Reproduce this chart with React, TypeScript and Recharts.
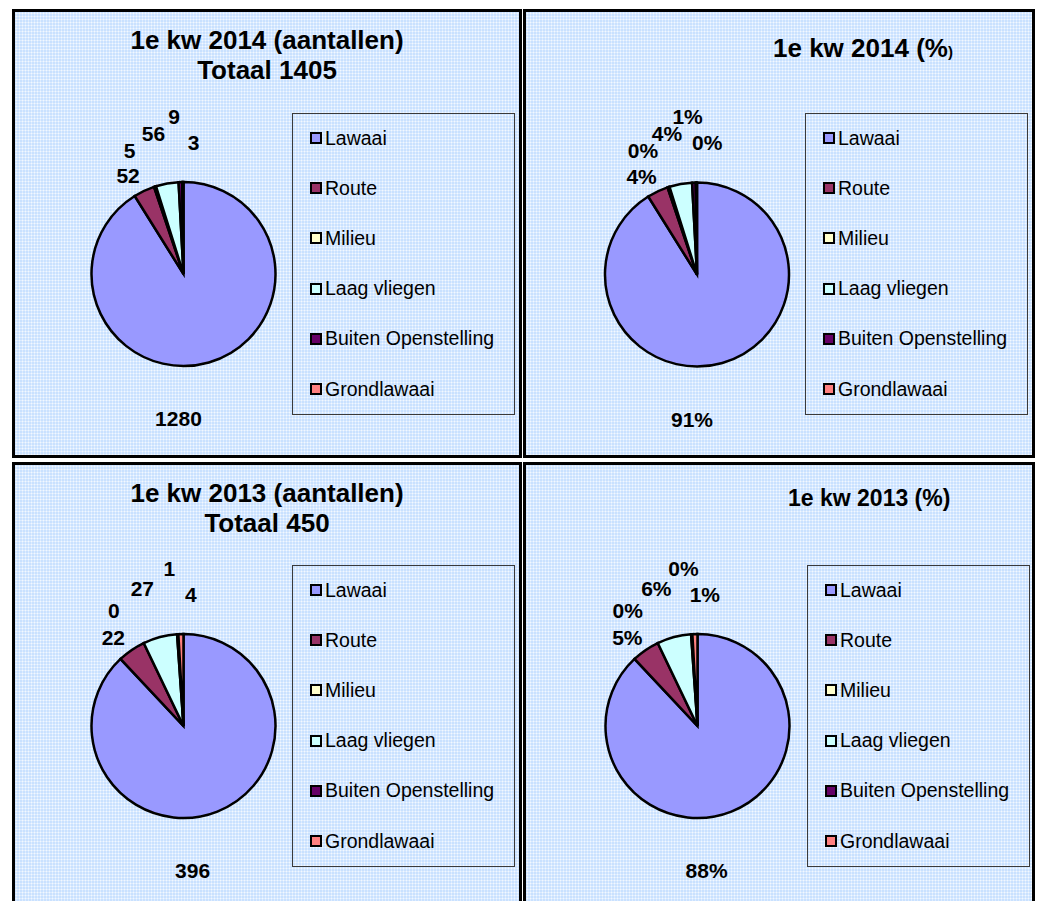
import React from 'react'
import { PieChart, Pie, Cell, Legend } from 'recharts'

const categories = ['Lawaai', 'Route', 'Milieu', 'Laag vliegen', 'Buiten Openstelling', 'Grondlawaai']
const sliceColors = ['#9999FF', '#993366', '#FFFFCC', '#CCFFFF', '#660066', '#FF8080']

const counts2014 = [1280, 52, 5, 56, 9, 3]
const counts2013 = [396, 22, 0, 27, 1, 4]

// label placement around the pie: angle nudge (deg, clockwise) and distance from centre
const labelShift = [18, -4, -5.5, -1.8, -1.5, 4.8]
const labelRadius = [145, 113, 135, 144, 158, 132]

const FONT = "'Liberation Sans', Arial, Helvetica, sans-serif"
const RAD = Math.PI / 180

const panelBg =
	'radial-gradient(circle at 1.5px 1.5px, #f2f8ff 0.8px, transparent 1.2px) 0 0 / 3px 3px, #c9e1ff'

type LabelProps = {
	cx: number
	cy: number
	midAngle: number
	index: number
	value: number
	percent: number
}

const makeLabel = (asPercent: boolean) => (props: LabelProps) => {
	const { cx, cy, midAngle, index, value, percent } = props
	const a = (90 - midAngle + labelShift[index]) * RAD
	const r = labelRadius[index]
	const x = cx + r * Math.sin(a)
	const y = cy - r * Math.cos(a)
	const text = asPercent ? `${Math.round(percent * 100)}%` : `${value}`
	return (
		<text
			key={`lbl-${index}`}
			x={x}
			y={y}
			textAnchor='middle'
			dominantBaseline='central'
			fill='#000'
			fontFamily={FONT}
			fontWeight='bold'
			fontSize={21}
		>
			{text}
		</text>
	)
}

const LegendBox = () => (
	<div
		style={{
			width: 223,
			height: 302,
			boxSizing: 'border-box',
			border: '1px solid #3a3a3a',
			position: 'relative',
			fontFamily: FONT,
		}}
	>
		{categories.map((name, i) => (
			<div
				key={name}
				style={{
					position: 'absolute',
					left: 17,
					top: 24 + i * 50.2 - 12,
					height: 24,
					display: 'flex',
					alignItems: 'center',
					whiteSpace: 'nowrap',
				}}
			>
				<span
					style={{
						display: 'inline-block',
						width: 8,
						height: 8,
						background: sliceColors[i],
						border: '2px solid #000',
						marginRight: 3,
					}}
				/>
				<span style={{ fontSize: 19.5, color: '#000' }}>{name}</span>
			</div>
		))}
	</div>
)

type PanelProps = {
	left: number
	top: number
	width: number
	counts: number[]
	asPercent: boolean
	cx: number
	cy: number
	legendLeft: number
	legendTop: number
	title: React.ReactNode
}

const Panel: React.FC<PanelProps> = ({ left, top, width, counts, asPercent, cx, cy, legendLeft, legendTop, title }) => {
	const data = categories.map((name, i) => ({ name, value: counts[i] }))
	const height = 449
	return (
		<div
			style={{
				position: 'absolute',
				left,
				top,
				width,
				height,
				boxSizing: 'border-box',
				border: '3px solid #000',
				background: panelBg,
			}}
		>
			{title}
			<div style={{ position: 'absolute', left: 0, top: 0 }}>
				<PieChart width={width - 6} height={height - 6} margin={{ top: 0, right: 0, bottom: 0, left: 0 }}>
					<Pie
						data={data}
						dataKey='value'
						nameKey='name'
						cx={cx}
						cy={cy}
						outerRadius={92}
						startAngle={90}
						endAngle={-270}
						stroke='#000'
						strokeWidth={2.5}
						label={makeLabel(asPercent) as any}
						labelLine={false}
						isAnimationActive={false}
					>
						{data.map((d, i) => (
							<Cell key={d.name} fill={sliceColors[i]} />
						))}
					</Pie>
					<Legend
						layout='vertical'
						align='right'
						verticalAlign='top'
						content={() => <LegendBox />}
						wrapperStyle={{ left: legendLeft, top: legendTop, width: 223, height: 302 }}
					/>
				</PieChart>
			</div>
		</div>
	)
}

const titleStyle: React.CSSProperties = {
	position: 'absolute',
	fontFamily: FONT,
	fontWeight: 'bold',
	color: '#000',
	whiteSpace: 'nowrap',
}

const CountTitle = ({ year, total }: { year: string; total: number }) => (
	<div style={{ ...titleStyle, left: 0, right: 0, top: 13, textAlign: 'center', fontSize: 26, lineHeight: '30px' }}>
		1e kw {year} (aantallen)
		<br />
		Totaal {total}
	</div>
)

const PercentTitle = ({ year, left, top, size, smallParen }: { year: string; left: number; top: number; size: number; smallParen: boolean }) => (
	<div style={{ ...titleStyle, left, top, fontSize: size, lineHeight: '30px' }}>
		1e kw {year} (%<span style={{ fontSize: smallParen ? 15 : size }}>)</span>
	</div>
)

export default function App() {
	const total2014 = counts2014.reduce((a, b) => a + b, 0)
	const total2013 = counts2013.reduce((a, b) => a + b, 0)
	return (
		<div style={{ position: 'absolute', left: 0, top: 0, width: 1037, height: 901, overflow: 'hidden', background: '#fff' }}>
			<Panel
				left={12}
				top={9}
				width={510}
				counts={counts2014}
				asPercent={false}
				cx={168.5}
				cy={262}
				legendLeft={277}
				legendTop={101}
				title={<CountTitle year='2014' total={total2014} />}
			/>
			<Panel
				left={523}
				top={9}
				width={512}
				counts={counts2014}
				asPercent={true}
				cx={171}
				cy={262.5}
				legendLeft={279}
				legendTop={101}
				title={<PercentTitle year='2014' left={247} top={21} size={26} smallParen={true} />}
			/>
			<Panel
				left={12}
				top={462}
				width={510}
				counts={counts2013}
				asPercent={false}
				cx={168.5}
				cy={261}
				legendLeft={277}
				legendTop={100}
				title={<CountTitle year='2013' total={total2013} />}
			/>
			<Panel
				left={523}
				top={462}
				width={512}
				counts={counts2013}
				asPercent={true}
				cx={171.5}
				cy={261}
				legendLeft={281}
				legendTop={100}
				title={<PercentTitle year='2013' left={262} top={18} size={23} smallParen={false} />}
			/>
		</div>
	)
}
